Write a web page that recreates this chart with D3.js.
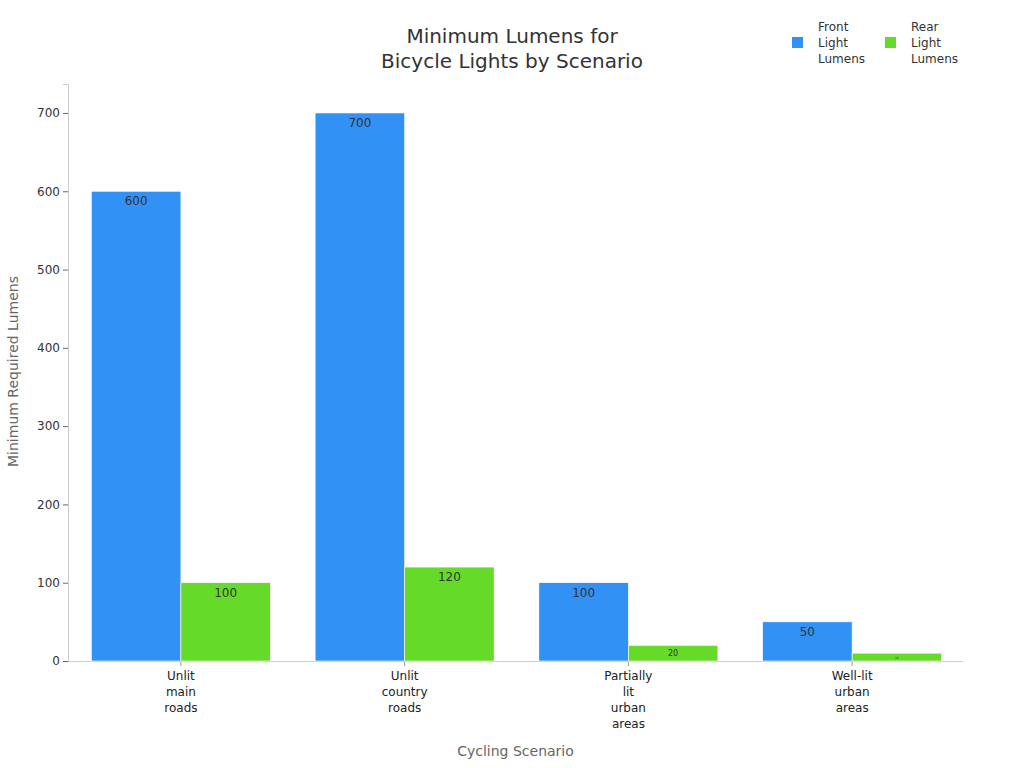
<!DOCTYPE html>
<html>
<head>
<meta charset="utf-8">
<script src="https://cdn.jsdelivr.net/npm/d3@7"></script>
<style>
  body { margin: 0; background: #fff; }
  svg, svg text { font-family: 'DejaVu Sans', sans-serif; }
</style>
</head>
<body>
<svg id="chart" width="1024" height="768"></svg>
<script>
const categories = [['Unlit', 'main', 'roads'], ['Unlit', 'country', 'roads'], ['Partially', 'lit', 'urban', 'areas'], ['Well-lit', 'urban', 'areas']]
const seriesNames = [['Front', 'Light', 'Lumens'], ['Rear', 'Light', 'Lumens']]
const frontLumens = [600, 700, 100, 50]
const rearLumens = [100, 120, 20, 10]
const yTicks = [0, 100, 200, 300, 400, 500, 600, 700]
const colors = ['#3191f5', '#66da29']

const margin = { top: 84, right: 61, bottom: 107, left: 68 }
const width = 1024 - margin.left - margin.right
const height = 768 - margin.top - margin.bottom

const svg = d3.select('#chart')
const g = svg.append('g').attr('transform', `translate(${margin.left},${margin.top})`)

const x0 = d3.scaleBand().domain(d3.range(categories.length)).range([1, width + 1]).paddingInner(0.2).paddingOuter(0.1)
const x1 = d3.scaleBand().domain([0, 1]).range([0, x0.bandwidth()])
const y = d3.scaleLinear().domain([0, 737]).range([height, 0])

// axes
const yAxis = g.append('g').call(d3.axisLeft(y).tickValues(yTicks).tickSize(5).tickPadding(3))
yAxis.attr('font-family', null)
yAxis.select('.domain').attr('stroke', '#ccc')
yAxis.selectAll('.tick line').attr('stroke', '#666')
yAxis.selectAll('.tick text').attr('fill', '#333').style('font-size', '12px')

const xAxis = g.append('g').attr('transform', `translate(0,${height})`)
  .call(d3.axisBottom(x0).tickSize(5).tickSizeOuter(0).tickFormat(''))
xAxis.attr('font-family', null)
xAxis.select('.domain').attr('stroke', '#ccc').attr('d', `M0,0.5H${width}`)
xAxis.selectAll('.tick line').attr('stroke', '#999')
xAxis.selectAll('.tick').each(function (d) {
  const t = d3.select(this).append('text')
    .attr('fill', '#222')
    .attr('text-anchor', 'middle')
    .style('font-size', '12px')
  categories[d].forEach((line, i) => {
    t.append('tspan').attr('x', 0).attr('y', 19 + i * 16).text(line)
  })
})

// bars
const groups = g.append('g').selectAll('g')
  .data(d3.range(categories.length))
  .join('g')
  .attr('transform', (i) => `translate(${x0(i)},0)`)

groups.selectAll('rect')
  .data((i) => [frontLumens[i], rearLumens[i]])
  .join('rect')
  .attr('x', (d, j) => x1(j))
  .attr('y', (d) => y(d))
  .attr('width', x1.bandwidth())
  .attr('height', (d) => height - y(d))
  .attr('fill', (d, j) => colors[j])
  .attr('stroke', '#fff')
  .attr('stroke-width', 0.6)

groups.selectAll('text')
  .data((i) => [frontLumens[i], rearLumens[i]])
  .join('text')
  .attr('x', (d, j) => x1(j) + x1.bandwidth() / 2)
  .attr('y', (d) => {
    const h = height - y(d)
    if (h < 12) return y(d) + h / 2 + 2
    if (h < 20) return y(d) + h / 2 + 3
    return y(d) + 14
  })
  .attr('text-anchor', 'middle')
  .attr('fill', '#333')
  .style('font-size', (d) => {
    const h = height - y(d)
    if (h < 12) return '3px'
    if (h < 20) return '8px'
    return '12px'
  })
  .text((d) => d)

// title
const title = svg.append('text')
  .attr('x', 512)
  .attr('text-anchor', 'middle')
  .attr('fill', '#333')
  .style('font-size', '20px')
title.append('tspan').attr('x', 512).attr('y', 43).text('Minimum Lumens for')
title.append('tspan').attr('x', 512).attr('y', 68).text('Bicycle Lights by Scenario')

// axis titles
svg.append('text')
  .attr('transform', `translate(18,${margin.top + height / 2 - 1}) rotate(-90)`)
  .attr('text-anchor', 'middle')
  .attr('fill', '#666')
  .style('font-size', '14px')
  .text('Minimum Required Lumens')

svg.append('text')
  .attr('x', margin.left + width / 2)
  .attr('y', 756)
  .attr('text-anchor', 'middle')
  .attr('fill', '#666')
  .style('font-size', '14px')
  .text('Cycling Scenario')

// legend
const legendX = [792, 885]
seriesNames.forEach((name, i) => {
  const lg = svg.append('g').attr('transform', `translate(${legendX[i]},0)`)
  lg.append('rect').attr('x', 0).attr('y', 37).attr('width', 11).attr('height', 11).attr('fill', colors[i])
  const t = lg.append('text').attr('fill', '#333').style('font-size', '12px')
  name.forEach((line, k) => {
    t.append('tspan').attr('x', 26).attr('y', 31 + k * 16).text(line)
  })
})
</script>
</body>
</html>
